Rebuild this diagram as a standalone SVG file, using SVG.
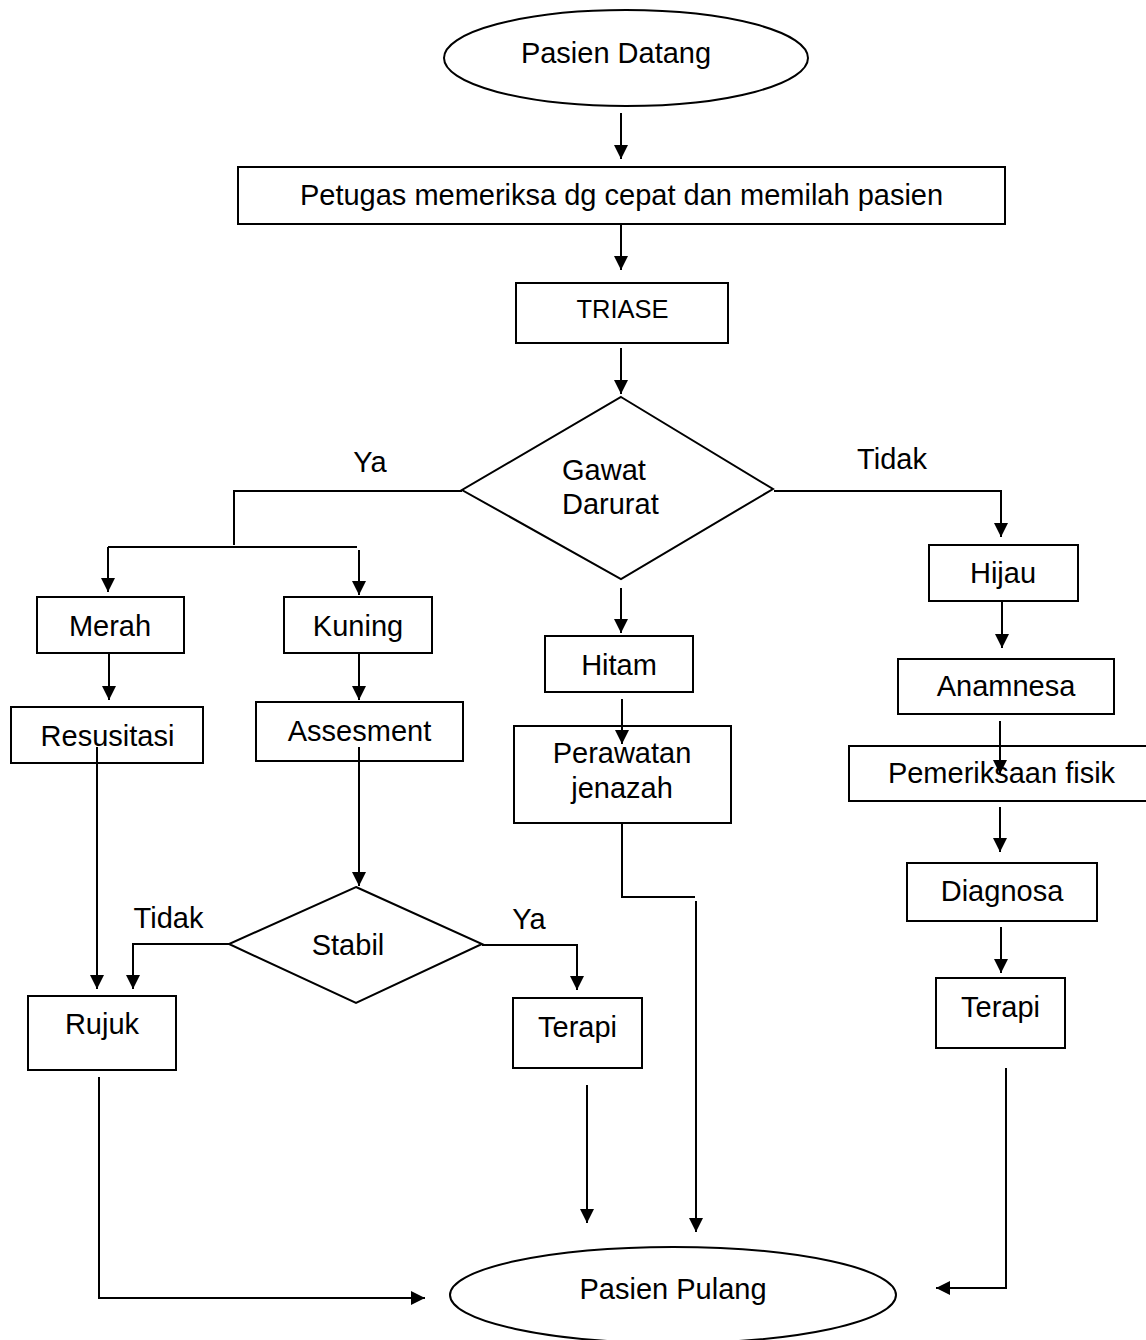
<svg xmlns="http://www.w3.org/2000/svg" width="1146" height="1340" viewBox="0 0 1146 1340">
<style>
  .box{fill:#fff;stroke:#000;stroke-width:2}
  .t{font-family:"Liberation Sans",Arial,sans-serif;font-size:29px;fill:#000;text-anchor:middle}
  .tl{font-family:"Liberation Sans",Arial,sans-serif;font-size:29px;fill:#000}
  .c{fill:none;stroke:#000;stroke-width:2}
  .a{fill:none;stroke:#000;stroke-width:2;marker-end:url(#ah)}
</style>
<defs>
  <marker id="ah" viewBox="0 0 14 14" refX="14" refY="7" markerWidth="14" markerHeight="14" markerUnits="userSpaceOnUse" orient="auto">
    <path d="M0,0 L14,7 L0,14 z" fill="#000"/>
  </marker>
</defs>
<rect width="1146" height="1340" fill="#fff"/>

<g id="nodes">
  <g id="pasien-datang"><ellipse class="box" cx="626" cy="58" rx="182" ry="48"/><text class="t" x="616" y="63">Pasien Datang</text></g>
  <g id="petugas"><rect class="box" x="238" y="167" width="767" height="57"/><text class="t" x="621.5" y="205">Petugas memeriksa dg cepat dan memilah pasien</text></g>
  <g id="triase"><rect class="box" x="516" y="283" width="212" height="60"/><text class="t" x="622.5" y="318" style="font-size:25.5px">TRIASE</text></g>
  <g id="gawat-darurat"><polygon class="box" points="621,397 773,489 621,579 462,490"/><text class="tl" x="562" y="480">Gawat</text><text class="tl" x="562" y="514">Darurat</text></g>
  <g id="merah"><rect class="box" x="37" y="597" width="147" height="56"/><text class="t" x="110" y="636">Merah</text></g>
  <g id="kuning"><rect class="box" x="284" y="597" width="148" height="56"/><text class="t" x="358" y="636">Kuning</text></g>
  <g id="resusitasi"><rect class="box" x="11" y="707" width="192" height="56"/><text class="t" x="107.5" y="746">Resusitasi</text></g>
  <g id="assesment"><rect class="box" x="256" y="702" width="207" height="59"/><text class="t" x="359.5" y="741">Assesment</text></g>
  <g id="hitam"><rect class="box" x="545" y="636" width="148" height="56"/><text class="t" x="619" y="675">Hitam</text></g>
  <g id="perawatan-jenazah"><rect class="box" x="514" y="726" width="217" height="97"/><text class="t" x="622" y="763">Perawatan</text><text class="t" x="622" y="798">jenazah</text></g>
  <g id="hijau"><rect class="box" x="929" y="545" width="149" height="56"/><text class="t" x="1003" y="583">Hijau</text></g>
  <g id="anamnesa"><rect class="box" x="898" y="659" width="216" height="55"/><text class="t" x="1006" y="696">Anamnesa</text></g>
  <g id="pemeriksaan-fisik"><rect class="box" x="849" y="746" width="301" height="55"/><text class="t" x="1001.5" y="783">Pemeriksaan fisik</text></g>
  <g id="diagnosa"><rect class="box" x="907" y="863" width="190" height="58"/><text class="t" x="1002" y="901">Diagnosa</text></g>
  <g id="terapi-kanan"><rect class="box" x="936" y="978" width="129" height="70"/><text class="t" x="1000.5" y="1017">Terapi</text></g>
  <g id="stabil"><polygon class="box" points="356,887 482,944 356,1003 229,944"/><text class="t" x="348" y="955">Stabil</text></g>
  <g id="rujuk"><rect class="box" x="28" y="996" width="148" height="74"/><text class="t" x="102" y="1034">Rujuk</text></g>
  <g id="terapi-kiri"><rect class="box" x="513" y="998" width="129" height="70"/><text class="t" x="577.5" y="1037">Terapi</text></g>
  <g id="pasien-pulang"><ellipse class="box" cx="673" cy="1295" rx="223" ry="48"/><text class="t" x="673" y="1299">Pasien Pulang</text></g>
</g>

<g id="connectors">
  <path class="a" d="M621,113 V159"/>
  <path class="a" d="M621,224 V270"/>
  <path class="a" d="M621,348 V394"/>
  <path class="c" d="M462,491 H234 V545"/>
  <path class="c" d="M108,547 H357"/>
  <path class="a" d="M108,547 V592"/>
  <path class="a" d="M359,550 V595"/>
  <path class="a" d="M774,491 H1001 V537"/>
  <path class="a" d="M621,588 V633"/>
  <path class="a" d="M109,653 V700"/>
  <path class="a" d="M359,653 V700"/>
  <path class="a" d="M622,699 V744"/>
  <path class="a" d="M1002,602 V648"/>
  <path class="a" d="M1000,721 V774"/>
  <path class="a" d="M1000,807 V852"/>
  <path class="a" d="M1001,927 V973"/>
  <path class="a" d="M97,747 V989"/>
  <path class="a" d="M359,747 V886"/>
  <path class="a" d="M229,944 H133 V989"/>
  <path class="a" d="M482,945 H577 V990"/>
  <path class="c" d="M622,823 V897 H695"/>
  <path class="a" d="M696,901 V1232"/>
  <path class="a" d="M99,1077 V1298 H425"/>
  <path class="a" d="M587,1085 V1223"/>
  <path class="a" d="M1006,1068 V1288 H936"/>
  <g id="labels">
    <text class="t" x="370" y="472">Ya</text>
    <text class="t" x="892" y="469">Tidak</text>
    <text class="t" x="168.5" y="928">Tidak</text>
    <text class="t" x="529" y="929">Ya</text>
  </g>
</g>
</svg>
